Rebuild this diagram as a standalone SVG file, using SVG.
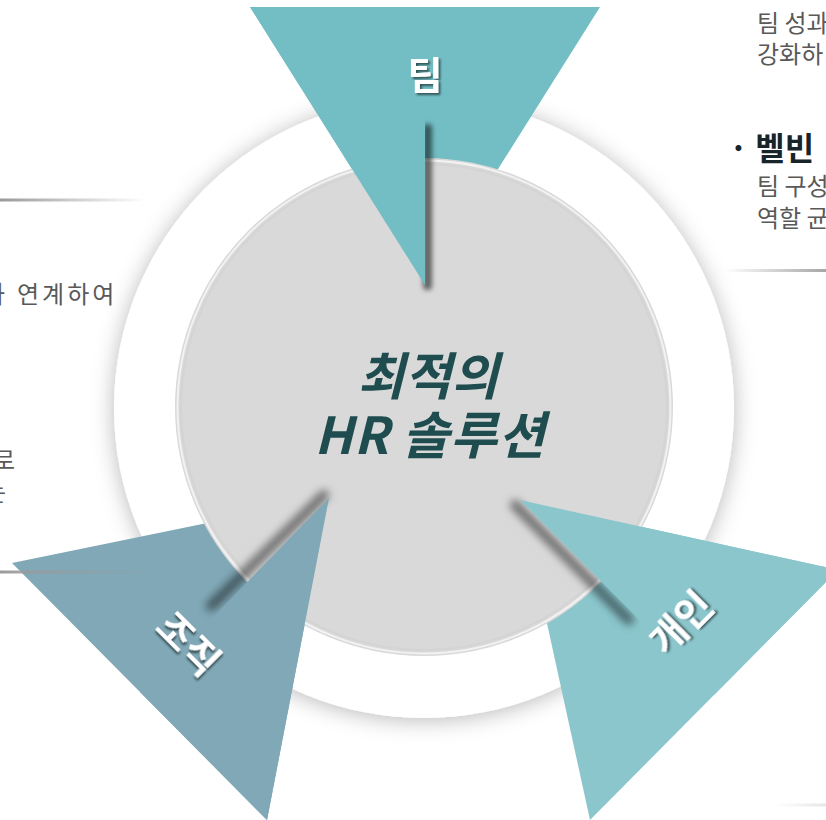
<svg xmlns="http://www.w3.org/2000/svg" width="826" height="820" viewBox="0 0 826 820">
<style>
.body{font-family:"Noto Sans CJK KR","Noto Sans",sans-serif;font-size:24px;fill:#595959}
.bold{font-family:"Noto Sans CJK KR","Noto Sans",sans-serif;font-size:32px;font-weight:700;fill:#17252a}
.lbl{font-family:"Noto Sans CJK KR","Noto Sans",sans-serif;font-size:38px;font-weight:700;fill:#ffffff;text-anchor:middle}
.ctr{font-family:"Noto Sans CJK KR","Noto Sans",sans-serif;font-size:51px;font-weight:700;font-style:italic;fill:#1f4c4e;text-anchor:middle}
.fold{stroke:#000;stroke-opacity:0.5;stroke-width:10;stroke-linecap:round;fill:none}
</style>
<defs>
<filter id="halo" x="-20%" y="-20%" width="140%" height="140%">
<feDropShadow dx="0" dy="2" stdDeviation="11" flood-color="#000" flood-opacity="0.28"/>
</filter>
<filter id="blur" x="-50%" y="-50%" width="200%" height="200%">
<feGaussianBlur stdDeviation="4"/>
</filter>
<filter id="blur2" filterUnits="userSpaceOnUse" x="400" y="100" width="60" height="220">
<feGaussianBlur stdDeviation="2.5"/>
</filter>
<filter id="ts" x="-20%" y="-20%" width="140%" height="140%">
<feDropShadow dx="2" dy="2" stdDeviation="1" flood-color="#000" flood-opacity="0.55"/>
</filter>
<linearGradient id="lineL" x1="0" y1="0" x2="1" y2="0">
<stop offset="0" stop-color="#9a9a9a"/>
<stop offset="1" stop-color="#9a9a9a" stop-opacity="0"/>
</linearGradient>
<linearGradient id="lineR" x1="0" y1="0" x2="1" y2="0">
<stop offset="0" stop-color="#a6a6a6" stop-opacity="0"/>
<stop offset="1" stop-color="#a6a6a6"/>
</linearGradient>
<linearGradient id="lineR2" x1="0" y1="0" x2="1" y2="0">
<stop offset="0" stop-color="#e6e6e6" stop-opacity="0"/>
<stop offset="1" stop-color="#e6e6e6"/>
</linearGradient>
</defs>
<rect width="826" height="820" fill="#ffffff"/>

<g id="side-texts">
<text class="body" x="757" y="32">팀 성과</text>
<text class="body" x="757" y="63">강화하</text>
<text class="bold" x="729" y="160">· 벨빈</text>
<text class="body" x="757" y="195">팀 구성</text>
<text class="body" x="757" y="227">역할 균</text>
<text class="body"><tspan x="-17" y="303">과</tspan><tspan x="17" y="303" letter-spacing="3">연계하여</tspan></text>
<text class="body" x="15" y="469" text-anchor="end">로</text>
<text class="body" x="6" y="501" text-anchor="end">는</text>
</g>

<g id="ring">
<circle cx="424" cy="408" r="310" fill="#ffffff" filter="url(#halo)"/>
</g>

<g id="triangles-back">
<polygon points="250,7 600,7 425,285" fill="#72bec4"/>
<polygon points="12,563 329,498 267,820" fill="#80a8b6"/>
<polygon points="520,500 838,570 590,820" fill="#8bc6cd"/>
</g>

<g id="center">
<circle cx="424" cy="407" r="249" fill="#d9d9d9"/>
<circle cx="424" cy="407" r="246.5" fill="none" stroke="#f2f2f2" stroke-width="2"/>
<circle cx="424" cy="407" r="243" fill="none" stroke="#cfcfcf" stroke-width="2" stroke-opacity="0.5"/>
<text class="ctr" x="428" y="395">최적의</text>
<text class="ctr" x="430" y="454" letter-spacing="1">HR 솔루션</text>
</g>

<g id="fold-shadows">
<rect x="423" y="124" width="9" height="166" rx="4" fill="#000" fill-opacity="0.55" filter="url(#blur2)"/>
<line class="fold" x1="324" y1="495" x2="211" y2="606" filter="url(#blur)"/>
<line class="fold" x1="515" y1="505" x2="629" y2="620" filter="url(#blur)"/>
</g>

<g id="team">
<polygon points="250,7 425,7 425,285" fill="#72bec4"/>
<text class="lbl" x="425" y="89" filter="url(#ts)">팀</text>
</g>

<g id="org">
<polygon points="329,498 140,692 267,820" fill="#80a8b6"/>
<text class="lbl" transform="translate(188,644) rotate(45)" y="13" filter="url(#ts)">조직</text>
</g>

<g id="indiv">
<polygon points="520,500 838,570 714,695" fill="#8bc6cd"/>
<text class="lbl" transform="translate(681,623) rotate(-45)" y="13" filter="url(#ts)">개인</text>
</g>

<g id="rules">
<rect x="0" y="198.5" width="145" height="3" fill="url(#lineL)"/>
<rect x="0" y="570.5" width="150" height="3" fill="url(#lineL)"/>
<rect x="725" y="269" width="101" height="3" fill="url(#lineR)"/>
<rect x="775" y="803.5" width="51" height="3" fill="url(#lineR2)"/>
</g>
</svg>
